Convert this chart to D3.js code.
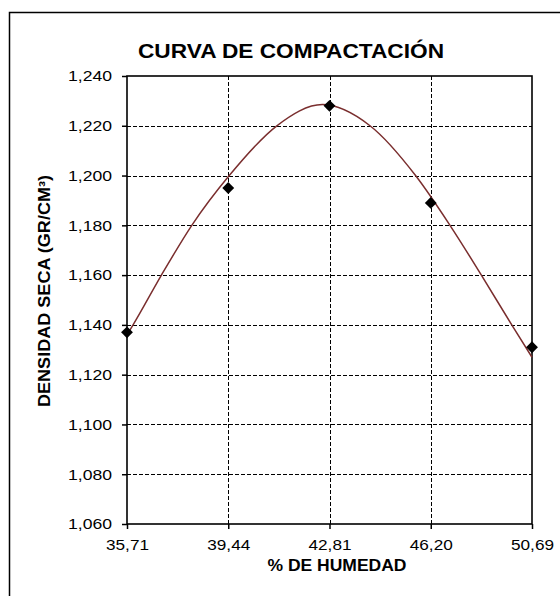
<!DOCTYPE html>
<html>
<head>
<meta charset="utf-8">
<script src="https://cdn.jsdelivr.net/npm/d3@7"></script>
<style>
  html, body { margin: 0; padding: 0; background: #fff; }
  svg { display: block; }
  text { font-family: Arial, "Liberation Sans", sans-serif; fill: #000; }
</style>
</head>
<body>
<svg id="chart" width="560" height="596"></svg>
<script>
// ---- data ----
const categories = ["35,71", "39,44", "42,81", "46,20", "50,69"];
const densities = [1.137, 1.195, 1.228, 1.189, 1.131];
const yTicks = [1.060, 1.080, 1.100, 1.120, 1.140, 1.160, 1.180, 1.200, 1.220, 1.240];
// fitted curve (position in category index, density)
const trendPos = [0, 0.06, 0.34, 0.64, 1.01, 1.48, 1.93, 2.40, 2.85, 3.19, 3.50, 3.80, 4.0];
const trendVal = [1.136, 1.140, 1.160, 1.180, 1.200, 1.220, 1.2285, 1.220, 1.200, 1.180, 1.160, 1.140, 1.127];
const titleText = "CURVA DE COMPACTACIÓN";
const xTitle = "% DE HUMEDAD";
const yTitle = "DENSIDAD SECA (GR/CM³)";

// ---- layout ----
const L = 127, R = 532, T = 76, B = 524;
const svg = d3.select("#chart");

svg.append("rect").attr("x", 0).attr("y", 0).attr("width", 560).attr("height", 596).attr("fill", "#fff");
// outer frame (extends beyond the right/bottom edges)
svg.append("rect").attr("x", 9.5).attr("y", 12.5).attr("width", 700).attr("height", 700)
  .attr("fill", "none").attr("stroke", "#000").attr("stroke-width", 1.5);

const x = d3.scalePoint().domain(categories).range([L, R]);
const xi = d3.scaleLinear().domain([0, categories.length - 1]).range([L, R]);
const y = d3.scaleLinear().domain([1.060, 1.240]).range([B, T]);

const loc = d3.formatLocale({decimal: ",", thousands: ".", grouping: [3], currency: ["", ""]});
const fmt = loc.format(".3f");

// gridlines
const grid = svg.append("g");
grid.selectAll("line.h").data(yTicks.slice(1, -1)).join("line")
  .attr("x1", L).attr("x2", R)
  .attr("y1", d => Math.round(y(d)) + 0.5).attr("y2", d => Math.round(y(d)) + 0.5)
  .attr("stroke", "#000").attr("stroke-width", 1).attr("stroke-dasharray", "4,2");
grid.selectAll("line.v").data(categories.slice(1, -1)).join("line")
  .attr("y1", T).attr("y2", B)
  .attr("x1", d => Math.round(x(d)) + 0.5).attr("x2", d => Math.round(x(d)) + 0.5)
  .attr("stroke", "#000").attr("stroke-width", 1).attr("stroke-dasharray", "4,2");

// plot border
svg.append("rect").attr("x", L).attr("y", T).attr("width", R - L).attr("height", B - T)
  .attr("fill", "none").attr("stroke", "#000").attr("stroke-width", 1.6);

// axes
const yAxis = d3.axisLeft(y).tickValues(yTicks).tickFormat(fmt).tickSize(5).tickPadding(10);
const gy = svg.append("g").attr("transform", `translate(${L},0)`).call(yAxis);
gy.select(".domain").remove();
gy.selectAll(".tick line").attr("stroke", "#000").attr("stroke-width", 1.5);
gy.selectAll(".tick text").attr("font-size", 15).attr("font-family", "Arial, 'Liberation Sans', sans-serif")
  .attr("fill", "#000").attr("textLength", 44).attr("lengthAdjust", "spacingAndGlyphs");

const xAxis = d3.axisBottom(x).tickSize(5).tickPadding(10);
const gx = svg.append("g").attr("transform", `translate(0,${B})`).call(xAxis);
gx.select(".domain").remove();
gx.selectAll(".tick line").attr("stroke", "#000").attr("stroke-width", 1.5);
gx.selectAll(".tick text").attr("font-size", 15).attr("font-family", "Arial, 'Liberation Sans', sans-serif")
  .attr("fill", "#000").attr("textLength", 43).attr("lengthAdjust", "spacingAndGlyphs");

// curve
const line = d3.line()
  .x((d, i) => xi(trendPos[i]))
  .y(d => y(d))
  .curve(d3.curveMonotoneX);
svg.append("path").datum(trendVal).attr("d", line)
  .attr("fill", "none").attr("stroke", "#7a2e2e").attr("stroke-width", 1.5);

// markers
svg.append("g").selectAll("path").data(densities).join("path")
  .attr("d", d3.symbol().type(d3.symbolSquare).size(70))
  .attr("transform", (d, i) => `translate(${x(categories[i])},${y(d)}) rotate(45)`)
  .attr("fill", "#000");

// titles
svg.append("text").attr("x", 291).attr("y", 58).attr("text-anchor", "middle")
  .attr("font-size", 21).attr("font-weight", "bold")
  .attr("textLength", 306).attr("lengthAdjust", "spacingAndGlyphs")
  .text(titleText);

svg.append("text").attr("x", 337).attr("y", 571).attr("text-anchor", "middle")
  .attr("font-size", 16).attr("font-weight", "bold")
  .attr("textLength", 139).attr("lengthAdjust", "spacingAndGlyphs")
  .text(xTitle);

svg.append("text").attr("transform", "translate(50,291) rotate(-90)").attr("text-anchor", "middle")
  .attr("font-size", 16).attr("font-weight", "bold")
  .attr("textLength", 232).attr("lengthAdjust", "spacingAndGlyphs")
  .text(yTitle);
</script>
</body>
</html>
